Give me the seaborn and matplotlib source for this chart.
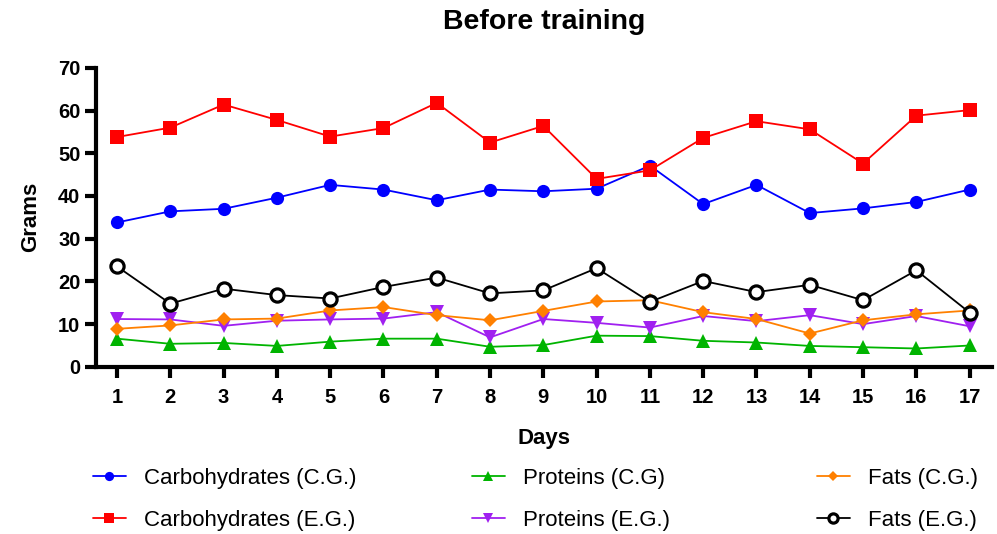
import numpy as np
import pandas as pd
import seaborn as sns
import matplotlib
matplotlib.use("Agg")
import matplotlib.pyplot as plt

# data (grams per day)
days = list(range(1, 18))
carbs_cg = [33.8, 36.4, 37.0, 39.6, 42.6, 41.5, 39.0, 41.5, 41.1, 41.7, 47.1, 38.1, 42.6, 36.0, 37.1, 38.6, 41.5]
carbs_eg = [53.8, 56.0, 61.4, 57.8, 53.9, 55.9, 61.8, 52.5, 56.4, 44.0, 46.0, 53.6, 57.5, 55.6, 47.6, 58.8, 60.1]
prot_cg = [6.6, 5.4, 5.6, 4.9, 5.9, 6.6, 6.6, 4.7, 5.1, 7.3, 7.2, 6.1, 5.7, 4.9, 4.6, 4.3, 5.0]
prot_eg = [11.2, 11.1, 9.6, 10.8, 11.1, 11.3, 12.8, 6.9, 11.2, 10.3, 9.2, 11.9, 10.7, 12.1, 10.0, 11.9, 9.5]
fats_cg = [8.9, 9.7, 11.1, 11.3, 13.2, 14.0, 12.1, 10.9, 13.1, 15.3, 15.6, 12.8, 11.2, 7.8, 10.9, 12.3, 13.2]
fats_eg = [23.5, 14.8, 18.3, 16.8, 16.0, 18.7, 20.9, 17.2, 17.9, 23.1, 15.2, 20.1, 17.5, 19.2, 15.6, 22.6, 12.7]

series_names = ["Carbohydrates (C.G.)", "Carbohydrates (E.G.)", "Proteins (C.G)",
                "Proteins (E.G.)", "Fats (C.G.)", "Fats (E.G.)"]
series_vals = [carbs_cg, carbs_eg, prot_cg, prot_eg, fats_cg, fats_eg]
colors = ["#0000ff", "#ff0000", "#00b400", "#a020f0", "#ff8000", "#000000"]
markers = ["o", "s", "^", "v", "D", "o"]
sizes = [9.5, 9.5, 9.5, 9.5, 7, 9.5]

sns.set_style("white")
plt.rcParams["font.family"] = ["Liberation Sans", "DejaVu Sans"]
plt.rcParams["text.color"] = "black"
plt.rcParams["axes.labelcolor"] = "black"
plt.rcParams["xtick.color"] = "black"
plt.rcParams["ytick.color"] = "black"

fig = plt.figure(figsize=(9.97, 5.34), dpi=100)
ax = fig.add_axes([0.096, 0.313, 0.899, 0.56])

for name, vals, c, m, s in zip(series_names, series_vals, colors, markers, sizes):
    df = pd.DataFrame({"Days": days, "Grams": vals})
    face = "white" if name == "Fats (E.G.)" else c
    mew = 2.3 if name == "Fats (E.G.)" else 0
    sns.lineplot(data=df, x="Days", y="Grams", ax=ax, color=c, marker=m,
                 markersize=s, markerfacecolor=face, markeredgecolor=c,
                 markeredgewidth=mew, linewidth=1.3, label=name)

ax.set_xlim(0.6, 17.42)
ax.set_ylim(0, 70)
ax.set_xticks(days)
ax.set_yticks(range(0, 71, 10))
for side in ["top", "right"]:
    ax.spines[side].set_visible(False)
for side in ["left", "bottom"]:
    ax.spines[side].set_linewidth(3)
    ax.spines[side].set_color("black")
ax.tick_params(axis="both", direction="out", length=8, width=3, color="black",
               labelsize=14.5, pad=3, bottom=True, left=True)
ax.tick_params(axis="x", pad=7)
for lab in ax.get_xticklabels() + ax.get_yticklabels():
    lab.set_fontweight("bold")
ax.set_xlabel("Days", fontsize=16, fontweight="bold", labelpad=15)
ax.set_ylabel("Grams", fontsize=16, fontweight="bold", labelpad=12)
ax.set_title("Before training", fontsize=20.5, fontweight="bold", pad=28)

# legend: three columns, each its own legend so the column gaps match
handles, labels = ax.get_legend_handles_labels()
ax.get_legend().remove()
col_x = [0.093, 0.473, 0.819]
for i, x in enumerate(col_x):
    fig.legend(handles[2 * i:2 * i + 2], labels[2 * i:2 * i + 2], loc="center left",
               bbox_to_anchor=(x, 0.065), frameon=False, fontsize=16,
               markerscale=0.7, handlelength=1.5, handletextpad=0.8,
               labelspacing=0.95, borderpad=0, borderaxespad=0)

fig.savefig("out.png", dpi=100)
